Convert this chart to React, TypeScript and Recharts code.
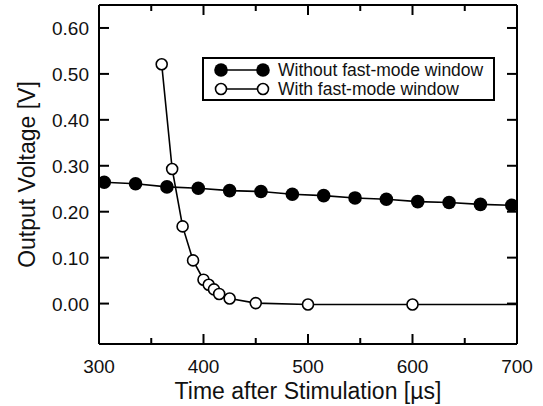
import React from 'react';
import { LineChart, Line, XAxis, YAxis, Label } from 'recharts';

const withoutX = [305, 335, 365, 395, 425, 455, 485, 515, 545, 575, 605, 635, 665, 695];
const withoutV = [0.264, 0.261, 0.254, 0.251, 0.246, 0.244, 0.238, 0.235, 0.23, 0.227, 0.222, 0.22, 0.216, 0.214];
const withX = [360, 370, 380, 390, 400, 405, 410, 415, 425, 450, 500, 600, 800];
const withV = [0.521, 0.293, 0.168, 0.094, 0.052, 0.041, 0.031, 0.021, 0.011, 0.001, -0.002, -0.002, -0.002];
const xTicks = [300, 350, 400, 450, 500, 550, 600, 650, 700];
const xLabeled = [300, 400, 500, 600, 700];
const yTicks = [0, 0.1, 0.2, 0.3, 0.4, 0.5, 0.6];
const seriesNames = ['Without fast-mode window', 'With fast-mode window'];

const withoutData = withoutX.map((x, i) => ({ x, v: withoutV[i] }));
const withData = withX.map((x, i) => ({ x, v: withV[i] }));

const FONT = '"Liberation Sans", Arial, Helvetica, sans-serif';

const BottomTick = (p: any) => {
  const major = xLabeled.includes(p.payload.value);
  return (
    <g>
      <line x1={p.x} x2={p.x} y1={p.y} y2={p.y - (major ? 10 : 6)} stroke="#000" strokeWidth={2} />
      {major && (
        <text x={p.x} y={p.y + 29} textAnchor="middle" fontSize={19} fontFamily={FONT} fill="#111">
          {p.payload.value}
        </text>
      )}
    </g>
  );
};
const TopTick = (p: any) => {
  const major = xLabeled.includes(p.payload.value);
  return <line x1={p.x} x2={p.x} y1={p.y} y2={p.y + (major ? 10 : 6)} stroke="#000" strokeWidth={2} />;
};
const LeftTick = (p: any) => (
  <g>
    <line x1={p.x} x2={p.x + 10} y1={p.y} y2={p.y} stroke="#000" strokeWidth={2} />
    <text x={p.x - 10} y={p.y + 7} textAnchor="end" fontSize={19} fontFamily={FONT} fill="#111">
      {p.payload.value.toFixed(2)}
    </text>
  </g>
);
const RightTick = (p: any) => <line x1={p.x} x2={p.x - 10} y1={p.y} y2={p.y} stroke="#000" strokeWidth={2} />;

const OpenDot = (p: any) => (
  <circle key={p.index} cx={p.cx} cy={p.cy} r={5.5} fill="#fff" stroke="#000" strokeWidth={1.6} />
);
const FilledDot = (p: any) => <circle key={p.index} cx={p.cx} cy={p.cy} r={6.8} fill="#000" stroke="none" />;

const LegendBox = () => (
  <div
    style={{
      position: 'absolute',
      left: 202,
      top: 57,
      width: 293,
      height: 44,
      border: '2px solid #000',
      boxSizing: 'border-box',
      background: '#fff',
    }}
  >
    {seriesNames.map((n, i) => (
      <div key={n} style={{ position: 'absolute', left: 0, top: 1 + i * 19, height: 20, display: 'flex', alignItems: 'center' }}>
        <svg width={70} height={20} style={{ display: 'block' }}>
          <line x1={17} x2={59} y1={10} y2={10} stroke="#000" strokeWidth={1.6} />
          {i === 0 ? (
            <>
              <circle cx={17} cy={10} r={6.8} fill="#000" />
              <circle cx={59} cy={10} r={6.8} fill="#000" />
            </>
          ) : (
            <>
              <circle cx={17} cy={10} r={5.5} fill="#fff" stroke="#000" strokeWidth={1.6} />
              <circle cx={59} cy={10} r={5.5} fill="#fff" stroke="#000" strokeWidth={1.6} />
            </>
          )}
        </svg>
        <span style={{ fontFamily: FONT, fontSize: 17.5, color: '#111', marginLeft: 4, whiteSpace: 'nowrap' }}>{n}</span>
      </div>
    ))}
  </div>
);

export default function App() {
  return (
    <div style={{ position: 'absolute', left: 0, top: 0, width: 543, height: 406, background: '#fff' }}>
      <LineChart width={543} height={406} margin={{ top: 4, right: 25, bottom: 0, left: 0 }}>
        <XAxis
          xAxisId="b"
          type="number"
          dataKey="x"
          domain={[300, 700]}
          allowDataOverflow
          ticks={xTicks}
          interval={0}
          tickLine={false}
          tickSize={0}
          tickMargin={0}
          tick={<BottomTick />}
          axisLine={{ stroke: '#000', strokeWidth: 2 }}
          height={62}
        >
          <Label
            value="Time after Stimulation [µs]"
            position="insideBottom"
            offset={7}
            style={{ fontSize: 23, fontFamily: FONT, fill: '#111' }}
          />
        </XAxis>
        <XAxis
          xAxisId="t"
          orientation="top"
          type="number"
          dataKey="x"
          domain={[300, 700]}
          allowDataOverflow
          ticks={xTicks}
          interval={0}
          tickLine={false}
          tickSize={0}
          tickMargin={0}
          tick={<TopTick />}
          axisLine={{ stroke: '#000', strokeWidth: 2 }}
          height={1}
        />
        <YAxis
          yAxisId="l"
          type="number"
          domain={[-0.088, 0.65]}
          allowDataOverflow
          ticks={yTicks}
          interval={0}
          tickLine={false}
          tickSize={0}
          tickMargin={0}
          tick={<LeftTick />}
          axisLine={{ stroke: '#000', strokeWidth: 2 }}
          width={99}
        >
          <Label
            value="Output Voltage [V]"
            angle={-90}
            position="insideLeft"
            offset={27}
            style={{ fontSize: 23, fontFamily: FONT, fill: '#111', textAnchor: 'middle' }}
          />
        </YAxis>
        <YAxis
          yAxisId="r"
          orientation="right"
          type="number"
          domain={[-0.088, 0.65]}
          allowDataOverflow
          ticks={yTicks}
          interval={0}
          tickLine={false}
          tickSize={0}
          tickMargin={0}
          tick={<RightTick />}
          axisLine={{ stroke: '#000', strokeWidth: 2 }}
          width={1}
        />
        <Line
          xAxisId="t"
          yAxisId="r"
          data={withoutData}
          dataKey="v"
          stroke="none"
          dot={false}
          activeDot={false}
          legendType="none"
          isAnimationActive={false}
        />
        <Line
          xAxisId="b"
          yAxisId="l"
          data={withoutData}
          dataKey="v"
          name={seriesNames[0]}
          stroke="#000"
          strokeWidth={1.6}
          dot={<FilledDot />}
          isAnimationActive={false}
        />
        <Line
          xAxisId="b"
          yAxisId="l"
          data={withData}
          dataKey="v"
          name={seriesNames[1]}
          stroke="#000"
          strokeWidth={1.6}
          dot={<OpenDot />}
          isAnimationActive={false}
        />
      </LineChart>
      <LegendBox />
    </div>
  );
}
